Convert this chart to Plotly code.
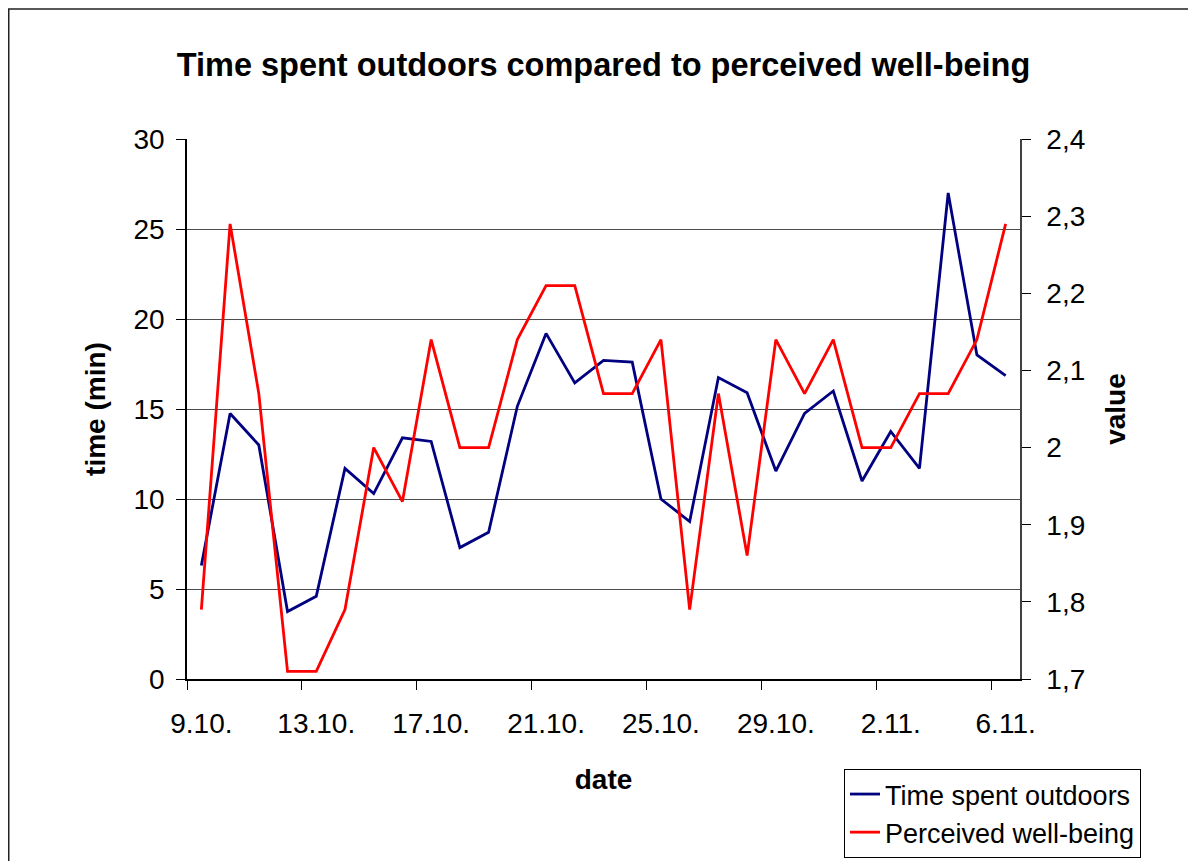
import plotly.graph_objects as go

dates = ["9.10.", "10.10.", "11.10.", "12.10.", "13.10.", "14.10.", "15.10.", "16.10.",
         "17.10.", "18.10.", "19.10.", "20.10.", "21.10.", "22.10.", "23.10.", "24.10.",
         "25.10.", "26.10.", "27.10.", "28.10.", "29.10.", "30.10.", "31.10.", "1.11.",
         "2.11.", "3.11.", "4.11.", "5.11.", "6.11."]
time_outdoors = [6.3, 14.75, 13.0, 3.75, 4.6, 11.7, 10.3, 13.4, 13.2, 7.3, 8.15, 15.15,
                 19.2, 16.45, 17.7, 17.6, 10.0, 8.75, 16.75, 15.9, 11.55, 14.75, 16.0,
                 11.0, 13.75, 11.7, 27.0, 18.0, 16.85]
well_being = [1.79, 2.29, 2.07, 1.71, 1.71, 1.79, 2.00, 1.93, 2.14, 2.00, 2.00, 2.14,
              2.21, 2.21, 2.07, 2.07, 2.14, 1.79, 2.07, 1.86, 2.14, 2.07, 2.14, 2.00,
              2.00, 2.07, 2.07, 2.14, 2.29]
left_ticks = [0, 5, 10, 15, 20, 25, 30]
right_ticks = [1.7, 1.8, 1.9, 2.0, 2.1, 2.2, 2.3, 2.4]
right_tick_text = ["1,7", "1,8", "1,9", "2", "2,1", "2,2", "2,3", "2,4"]

x_idx = list(range(len(dates)))
label_idx = x_idx[::4]
label_text = [dates[i] for i in label_idx]
boundary_ticks = [i - 0.5 for i in label_idx]

FONT = "Arial, Liberation Sans, sans-serif"

# the page body adds an 8px offset; the figure is sized to fill the rest of the window
W, H = 1188, 853
PL, PR, PT, PB = 179, 1012, 131, 671   # plot area in figure pixels
PW, PH = PR - PL, PB - PT

fig = go.Figure()
fig.add_trace(go.Scatter(x=x_idx, y=time_outdoors, mode="lines", name="Time spent outdoors",
                         line=dict(color="#000080", width=2.8), yaxis="y"))
fig.add_trace(go.Scatter(x=x_idx, y=well_being, mode="lines", name="Perceived well-being",
                         line=dict(color="#FF0000", width=2.8), yaxis="y2"))

fig.update_layout(
    width=W, height=H,
    margin=dict(l=PL, r=W - PR, t=PT, b=H - PB, autoexpand=False),
    paper_bgcolor="white", plot_bgcolor="white",
    font=dict(family=FONT, color="black", size=27),
    title=dict(text="<b>Time spent outdoors compared to perceived well-being</b>",
               x=(PL + PR) / 2 / W, xanchor="center",
               y=1 - 57 / H, yanchor="middle",
               font=dict(size=32.5, family=FONT, color="black")),
    xaxis=dict(range=[-0.5, len(dates) - 0.5], tickmode="array",
               tickvals=label_idx, ticktext=label_text, ticks="",
               showgrid=False, zeroline=False, showline=True, linecolor="black", linewidth=1.5,
               ticklabelstandoff=19,
               minor=dict(tickmode="array", tickvals=boundary_ticks, ticks="outside",
                          ticklen=9, tickcolor="black", tickwidth=1.3, showgrid=False),
               title=dict(text="<b>date</b>", font=dict(size=28), standoff=31),
               tickfont=dict(size=28)),
    yaxis=dict(range=[0, 30], tickmode="array", tickvals=left_ticks,
               ticks="outside", ticklen=9, tickcolor="black", tickwidth=1.3,
               showline=True, linecolor="black", linewidth=1.5,
               showgrid=True, gridcolor="#4d4d4d", gridwidth=1, zeroline=False,
               ticklabelstandoff=6,
               title=dict(text="<b>time (min)</b>", font=dict(size=28), standoff=20),
               tickfont=dict(size=28)),
    yaxis2=dict(range=[1.7, 2.4], overlaying="y", side="right", tickmode="array",
                tickvals=right_ticks, ticktext=right_tick_text,
                ticks="outside", ticklen=9, tickcolor="black", tickwidth=1.3,
                showline=True, linecolor="#404040", linewidth=1.5,
                showgrid=False, zeroline=False,
                ticklabelstandoff=10,
                title=dict(text="<b>value</b>", font=dict(size=28), standoff=21),
                tickfont=dict(size=28)),
    legend=dict(x=(836 - PL) / PW, xanchor="left", y=(PB - 761) / PH, yanchor="top",
                bordercolor="black", borderwidth=1, bgcolor="white",
                font=dict(size=27), tracegroupgap=0),
    showlegend=True,
)

# outer chart-area border (left and top edges visible, cropped on right/bottom)
fig.add_shape(type="rect", xref="paper", yref="paper",
              x0=(0.75 - PL) / PW, x1=(W + 20 - PL) / PW,
              y0=(PB - H - 20) / PH, y1=(PB - 1) / PH,
              line=dict(color="#222222", width=1.5), fillcolor="rgba(0,0,0,0)", layer="below")

fig.write_html("out.html")
